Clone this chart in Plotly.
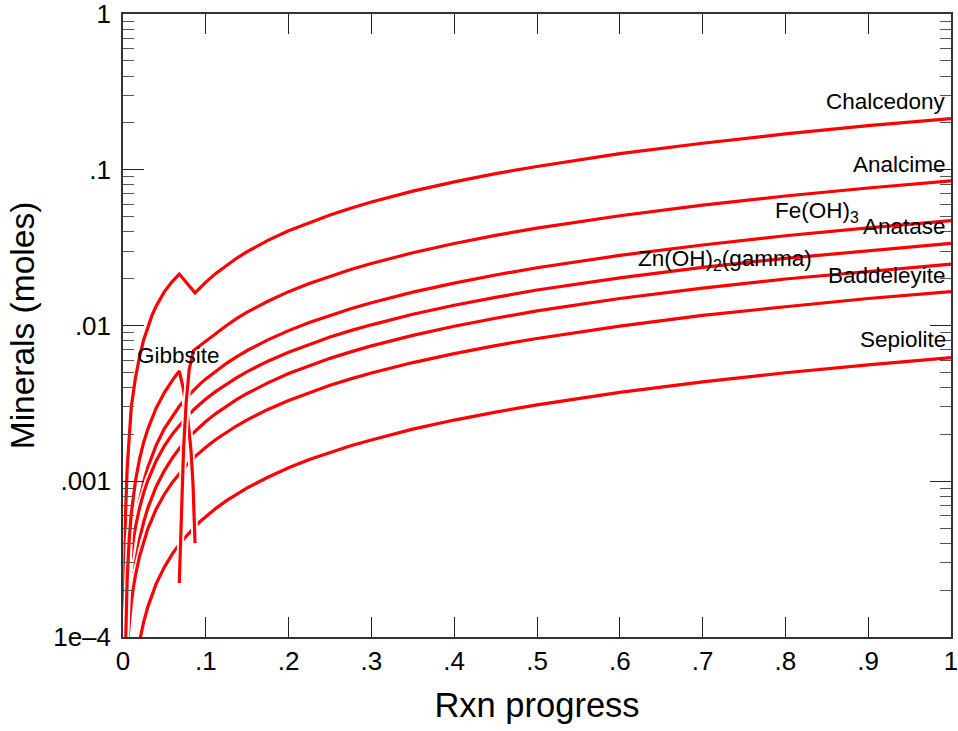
import math
import plotly.graph_objects as go

# Reaction progress (x) and mineral amounts in moles (y) for each phase
chalcedony_x = [0.0014, 0.002, 0.003, 0.005, 0.0075, 0.01, 0.015, 0.02, 0.025, 0.03, 0.035, 0.04,
                0.05, 0.06, 0.068, 0.087, 0.0925, 0.1, 0.1125, 0.125, 0.1375, 0.15, 0.175, 0.2,
                0.225, 0.25, 0.275, 0.3, 0.35, 0.4, 0.45, 0.5, 0.6, 0.7, 0.8, 0.9, 1.0]
chalcedony_y = [0.00009, 0.0003, 0.0006, 0.0012, 0.0021, 0.003, 0.0046, 0.0063, 0.0081, 0.0098,
                0.0116, 0.0133, 0.0165, 0.0193, 0.0214, 0.0162, 0.01738, 0.019, 0.02169, 0.0244,
                0.0271, 0.0298, 0.0352, 0.0406, 0.0459, 0.0513, 0.0567, 0.0621, 0.0729, 0.0837,
                0.0945, 0.105, 0.127, 0.148, 0.17, 0.192, 0.213]

feoh3_x = [0.006, 0.008, 0.01, 0.0125, 0.015, 0.02, 0.025, 0.03, 0.04, 0.05, 0.06, 0.068, 0.0775,
           0.087, 0.0925, 0.1, 0.1125, 0.125, 0.1375, 0.15, 0.175, 0.2, 0.225, 0.25, 0.275, 0.3,
           0.35, 0.4, 0.45, 0.5, 0.6, 0.7, 0.8, 0.9, 1.0]
feoh3_y = [0.0000946, 0.000189, 0.000284, 0.000402, 0.00052, 0.000757, 0.000993, 0.00123, 0.0017,
           0.00218, 0.00265, 0.00303, 0.00348, 0.00393, 0.00419, 0.00454, 0.00513, 0.00572,
           0.00631, 0.00691, 0.00809, 0.00927, 0.01045, 0.0116, 0.01282, 0.014, 0.01637, 0.0187,
           0.0211, 0.0235, 0.0282, 0.0329, 0.0377, 0.0424, 0.0471]

anatase_x = [0.0028, 0.004, 0.006, 0.008, 0.01, 0.0125, 0.015, 0.02, 0.025, 0.03, 0.04, 0.05, 0.06,
             0.068, 0.0775, 0.087, 0.0925, 0.1, 0.1125, 0.125, 0.1375, 0.15, 0.175, 0.2, 0.225,
             0.25, 0.275, 0.3, 0.35, 0.4, 0.45, 0.5, 0.6, 0.7, 0.8, 0.9, 1.0]
anatase_y = [0.0000944, 0.000135, 0.000202, 0.00027, 0.000337, 0.000421, 0.000506, 0.000674,
             0.000843, 0.00101, 0.00135, 0.00169, 0.00202, 0.00229, 0.00261, 0.00293, 0.00312,
             0.00337, 0.00379, 0.00421, 0.00463, 0.00506, 0.0059, 0.00674, 0.00758, 0.00843,
             0.00927, 0.0101, 0.0118, 0.0135, 0.01517, 0.0169, 0.0202, 0.0236, 0.027, 0.0303,
             0.0337]

znoh2_x = [0.0068, 0.008, 0.01, 0.0125, 0.015, 0.02, 0.025, 0.03, 0.04, 0.05, 0.06, 0.068, 0.0775,
           0.087, 0.0925, 0.1, 0.1125, 0.125, 0.1375, 0.15, 0.175, 0.2, 0.225, 0.25, 0.275, 0.3,
           0.35, 0.4, 0.45, 0.5, 0.6, 0.7, 0.8, 0.9, 1.0]
znoh2_y = [0.0000946, 0.000125, 0.000174, 0.000237, 0.000299, 0.000423, 0.000548, 0.000672,
           0.000921, 0.00117, 0.00142, 0.00162, 0.00186, 0.00209, 0.00223, 0.00242, 0.00273,
           0.00304, 0.00335, 0.00366, 0.00428, 0.00491, 0.00553, 0.00615, 0.00677, 0.0074,
           0.00864, 0.00989, 0.01113, 0.0124, 0.0149, 0.0174, 0.0199, 0.0223, 0.0248]

baddeleyite_x = [0.0058, 0.008, 0.01, 0.0125, 0.015, 0.02, 0.025, 0.03, 0.04, 0.05, 0.06, 0.068,
                 0.0775, 0.087, 0.0925, 0.1, 0.1125, 0.125, 0.1375, 0.15, 0.175, 0.2, 0.225, 0.25,
                 0.275, 0.3, 0.35, 0.4, 0.45, 0.5, 0.6, 0.7, 0.8, 0.9, 1.0]
baddeleyite_y = [0.0000957, 0.000132, 0.000165, 0.000206, 0.000248, 0.00033, 0.000413, 0.000495,
                 0.00066, 0.000825, 0.00099, 0.00112, 0.00128, 0.00144, 0.00153, 0.00165, 0.00186,
                 0.00206, 0.00227, 0.00248, 0.00289, 0.0033, 0.00371, 0.00413, 0.00454, 0.00495,
                 0.00578, 0.0066, 0.00743, 0.00825, 0.0099, 0.0116, 0.0132, 0.0149, 0.0165]

sepiolite_x = [0.02, 0.025, 0.03, 0.04, 0.05, 0.06, 0.068, 0.0775, 0.087, 0.0925, 0.1, 0.1125,
               0.125, 0.1375, 0.15, 0.175, 0.2, 0.225, 0.25, 0.275, 0.3, 0.35, 0.4, 0.45, 0.5, 0.6,
               0.7, 0.8, 0.9, 1.0]
sepiolite_y = [0.0000938, 0.000125, 0.000156, 0.000219, 0.000281, 0.000344, 0.000394, 0.000453,
               0.000513, 0.000547, 0.000594, 0.000672, 0.00075, 0.000828, 0.000906, 0.00106,
               0.00122, 0.00138, 0.00153, 0.00169, 0.00184, 0.00216, 0.00247, 0.00278, 0.00309,
               0.00372, 0.00434, 0.00497, 0.00559, 0.00622]

gibbsite_x = [0.0032, 0.004, 0.005, 0.0075, 0.01, 0.015, 0.02, 0.025, 0.03, 0.04, 0.05, 0.06,
              0.068, 0.0725, 0.0775, 0.082, 0.0845, 0.087]
gibbsite_y = [0.000093, 0.000155, 0.000232, 0.000425, 0.000618, 0.001, 0.00139, 0.00178, 0.00216,
              0.00294, 0.00371, 0.00448, 0.0051, 0.004, 0.00275, 0.0016, 0.00097, 0.0004]

analcime_x = [0.068, 0.0702, 0.0731, 0.0763, 0.0799, 0.0851, 0.0925, 0.1, 0.1125, 0.125, 0.1375,
              0.15, 0.175, 0.2, 0.225, 0.25, 0.275, 0.3, 0.35, 0.4, 0.45, 0.5, 0.6, 0.7, 0.8, 0.9,
              1.0]
analcime_y = [0.000222, 0.0006, 0.0016, 0.0032, 0.0052, 0.0069, 0.0074, 0.0079, 0.00896, 0.01,
              0.0111, 0.0122, 0.0143, 0.0165, 0.0186, 0.0207, 0.0229, 0.025, 0.0293, 0.0336,
              0.0379, 0.0422, 0.0507, 0.0593, 0.0679, 0.0764, 0.085]

# Axis tick values and labels
x_ticks = [0, 0.1, 0.2, 0.3, 0.4, 0.5, 0.6, 0.7, 0.8, 0.9, 1.0]
x_tick_text = ["0", ".1", ".2", ".3", ".4", ".5", ".6", ".7", ".8", ".9", "1"]
y_ticks = [1e-4, 1e-3, 1e-2, 1e-1, 1]
y_tick_text = ["1e\u20134", ".001", ".01", ".1", "1"]
y_minor_ticks = [m * 10.0 ** e for e in range(-4, 0) for m in range(2, 10)]

series = [
    (chalcedony_x, chalcedony_y),
    (feoh3_x, feoh3_y),
    (anatase_x, anatase_y),
    (znoh2_x, znoh2_y),
    (baddeleyite_x, baddeleyite_y),
    (sepiolite_x, sepiolite_y),
    (gibbsite_x, gibbsite_y),
    (analcime_x, analcime_y),
]

FONT = "Liberation Sans, Arial, Helvetica, sans-serif"
RED = "#ff0000"

fig = go.Figure()
for xs, ys in series:
    # white casing so that crossing curves leave a small gap
    fig.add_trace(go.Scatter(x=xs, y=ys, mode="lines",
                             line=dict(color="white", width=7), hoverinfo="skip"))
    fig.add_trace(go.Scatter(x=xs, y=ys, mode="lines",
                             line=dict(color=RED, width=3.2)))

# curve labels: (text, x as plot fraction, y in moles, x anchor)
labels = [
    ("Chalcedony", 0.9958, 0.2735, "right"),
    ("Analcime", 0.9958, 0.1076, "right"),
    ("Fe(OH)<sub>3</sub>", 0.8913, 0.0537, "right"),
    ("Anatase", 0.9958, 0.0431, "right"),
    ("Zn(OH)<sub>2</sub>(gamma)", 0.6201, 0.0264, "left"),
    ("Baddeleyite", 0.9958, 0.0211, "right"),
    ("Sepiolite", 0.9958, 0.0081, "right"),
    ("Gibbsite", 0.0145, 0.00638, "left"),
]
for text, lx, ly, anchor in labels:
    fig.add_annotation(x=lx, y=math.log10(ly), xref="paper", yref="y", text=text,
                       showarrow=False, xanchor=anchor, yanchor="middle",
                       font=dict(family=FONT, size=22.5, color="black"))

axis_common = dict(
    showline=True, linecolor="#333333", linewidth=1.5, mirror="ticks",
    ticks="inside", tickcolor="#222222", tickwidth=1.2,
    showgrid=False, zeroline=False, ticklabeloverflow="allow", automargin=False,
    tickfont=dict(family=FONT, size=26, color="black"),
)

fig.update_xaxes(
    range=[0, 1], tickmode="array", tickvals=x_ticks, ticktext=x_tick_text,
    ticklen=20,
    title=dict(text="Rxn progress", font=dict(family=FONT, size=34.5, color="black"),
               standoff=18),
    **axis_common,
)
fig.update_yaxes(
    type="log", range=[-4.0005, 0.0005], tickmode="array", tickvals=y_ticks,
    ticktext=y_tick_text, ticklen=21, ticklabelstandoff=5,
    minor=dict(ticks="inside", ticklen=11, tickcolor="#555555", tickwidth=1.2,
               tickmode="array", tickvals=y_minor_ticks),
    title=dict(text="Minerals (moles)", font=dict(family=FONT, size=33.5, color="black"),
               standoff=8),
    **axis_common,
)

fig.update_layout(
    width=958, height=731,
    margin=dict(l=123, r=7, t=14, b=94, autoexpand=False),
    plot_bgcolor="white", paper_bgcolor="white",
    showlegend=False,
    font=dict(family=FONT, color="black"),
)

fig.write_html("out.html")
